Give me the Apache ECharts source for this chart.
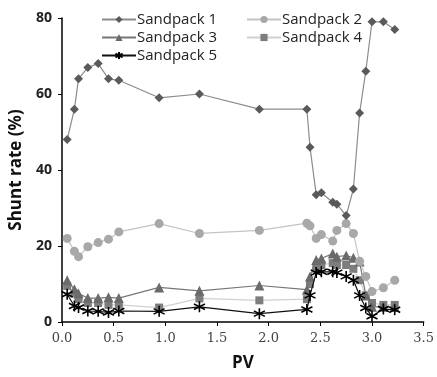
<!DOCTYPE html>
<html>
<head>
<meta charset="utf-8">
<script src="https://cdn.jsdelivr.net/npm/echarts@6/dist/echarts.min.js"></script>
<style>
  html, body { margin: 0; padding: 0; background: #fff; }
  #chart { width: 437px; height: 377px; }
</style>
</head>
<body>
<div id="chart"></div>
<script>
// PV (injected pore volumes) shared by every sandpack
const pv = [0.05, 0.12, 0.16, 0.25, 0.35, 0.45, 0.55, 0.94, 1.33, 1.91, 2.37, 2.40, 2.46, 2.51, 2.62, 2.66, 2.75, 2.82, 2.88, 2.94, 3.00, 3.11, 3.22]
const sandpack1 = [48, 56, 64, 67, 68, 64, 63.6, 59, 60, 56, 56, 46, 33.5, 34, 31.5, 31, 28, 35, 55, 66, 79, 79, 77]
const sandpack2 = [22, 18.6, 17.2, 19.8, 20.9, 21.8, 23.7, 25.9, 23.3, 24.1, 26, 25.3, 22, 23, 21.3, 24.1, 25.9, 23.3, 16, 12, 8, 9, 11]
const sandpack3 = [11, 8.6, 7.5, 6.3, 6.3, 6.5, 6.3, 9.1, 8.2, 9.6, 8.5, 12, 16.3, 16.7, 18, 17.2, 17.5, 16.9, 15.9, 7, 4, 4, 4]
const sandpack4 = [9.5, 7.5, 6, 5, 5, 4.5, 4.5, 3.8, 6.2, 5.7, 6, 10, 14, 15, 15.5, 15, 15, 14, 11, 7, 5, 4.5, 4.5]
const sandpack5 = [7.3, 4.2, 3.8, 2.9, 2.8, 2.5, 2.9, 2.8, 4, 2.2, 3.3, 7, 13, 13.2, 13.2, 13, 12, 11, 7, 3.7, 1.5, 3.4, 3.2]
const names = ['Sandpack 1', 'Sandpack 2', 'Sandpack 3', 'Sandpack 4', 'Sandpack 5']

const asterisk = 'path://M5,0 L5,10 M0.7,2.5 L9.3,7.5 M0.7,7.5 L9.3,2.5'
const pts = vals => pv.map((x, i) => [x, vals[i]])

var myChart = echarts.init(document.getElementById('chart'))
var legendText = { fontFamily: 'Open Sans', fontSize: 15, color: '#222', padding: [0, 0, 0, -4] }
var option = {
  animation: false,
  grid: { left: 62, top: 18, right: 7, bottom: 53 },
  legend: [
    {
      data: ['Sandpack 1', 'Sandpack 3', 'Sandpack 5'],
      orient: 'vertical',
      left: 96,
      top: 7,
      itemWidth: 34,
      itemHeight: 9,
      itemGap: 3,
      textStyle: legendText
    },
    {
      data: ['Sandpack 2', 'Sandpack 4'],
      orient: 'vertical',
      left: 241,
      top: 7,
      itemWidth: 34,
      itemHeight: 9,
      itemGap: 3,
      textStyle: legendText
    }
  ],
  xAxis: {
    type: 'value',
    min: 0,
    max: 3.5,
    interval: 0.5,
    name: 'PV',
    nameLocation: 'middle',
    nameGap: 33,
    nameTextStyle: { fontFamily: 'Open Sans', fontWeight: 'bold', fontSize: 17, color: '#111' },
    splitLine: { show: false },
    axisLine: { lineStyle: { color: '#000', width: 1.5 } },
    axisTick: { length: 4, lineStyle: { color: '#000' } },
    axisLabel: {
      margin: 10,
      fontFamily: 'DejaVu Serif',
      fontSize: 13,
      color: '#444',
      formatter: v => v.toFixed(1)
    }
  },
  yAxis: {
    type: 'value',
    min: 0,
    max: 80,
    interval: 20,
    name: 'Shunt rate (%)',
    nameLocation: 'middle',
    nameGap: 36,
    nameTextStyle: { fontFamily: 'Open Sans', fontWeight: 'bold', fontSize: 17, color: '#111' },
    splitLine: { show: false },
    axisLine: { show: true, lineStyle: { color: '#000', width: 1.5 } },
    axisTick: { show: true, length: 4, lineStyle: { color: '#000' } },
    axisLabel: { margin: 10, fontFamily: 'Open Sans', fontWeight: 'bold', fontSize: 14, color: '#222' }
  },
  series: [
    {
      name: names[0],
      type: 'line',
      data: pts(sandpack1),
      symbol: 'diamond',
      symbolSize: 9,
      lineStyle: { color: '#8c8c8c', width: 1.2 },
      itemStyle: { color: '#5a5a5a' },
      z: 5
    },
    {
      name: names[1],
      type: 'line',
      data: pts(sandpack2),
      symbol: 'circle',
      symbolSize: 9,
      lineStyle: { color: '#c4c4c4', width: 1.2 },
      itemStyle: { color: '#a8a8a8' },
      z: 4
    },
    {
      name: names[2],
      type: 'line',
      data: pts(sandpack3),
      symbol: 'triangle',
      symbolSize: 10,
      lineStyle: { color: '#777', width: 1.2 },
      itemStyle: { color: '#6b6b6b' },
      z: 3
    },
    {
      name: names[3],
      type: 'line',
      data: pts(sandpack4),
      symbol: 'rect',
      symbolSize: 8,
      lineStyle: { color: '#d0d0d0', width: 1.2 },
      itemStyle: { color: '#7d7d7d' },
      z: 2
    },
    {
      name: names[4],
      type: 'line',
      data: pts(sandpack5),
      symbol: asterisk,
      symbolSize: 11,
      lineStyle: { color: '#111', width: 1.2 },
      itemStyle: { color: 'none', borderColor: '#000', borderWidth: 1.6 },
      z: 6
    }
  ]
}
myChart.setOption(option)
</script>
</body>
</html>
